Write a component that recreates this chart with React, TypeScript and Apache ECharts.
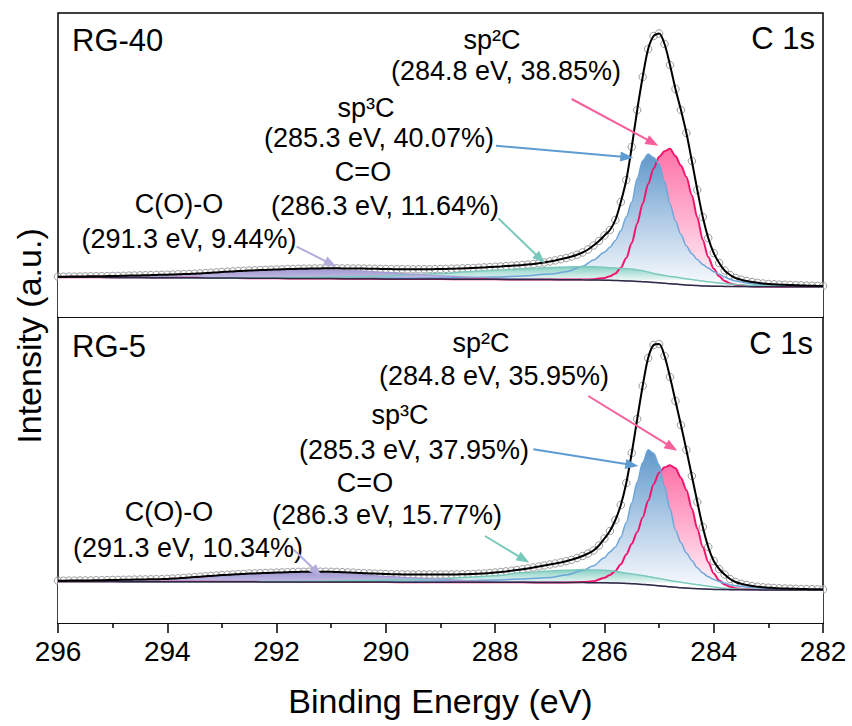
import React, { useEffect, useRef } from "react";
import * as echarts from "echarts";

// ---------- data ----------
// binding-energy grid of the measured spectra: 296.0 -> 282.0 eV, 0.1 eV step
const DATA_START_EV = 296.0;
const DATA_STEP_EV = 0.1;
const X_MIN = 282;
const X_MAX = 296;
const X_INTERVAL = 2;

// measured intensity (a.u.), RG-40
const RG40_DATA = [
  40.3, 40.3, 40.4, 40.4, 40.5, 40.6, 40.7, 40.8, 40.8, 40.9,
  41.0, 41.1, 41.2, 41.4, 41.5, 41.6, 41.8, 41.9, 42.1, 42.2,
  42.3, 42.5, 42.7, 42.9, 43.1, 43.3, 43.6, 43.9, 44.3, 44.6,
  45.0, 45.3, 45.6, 45.9, 46.2, 46.5, 46.7, 46.9, 47.1, 47.3,
  47.5, 47.7, 47.9, 48.0, 48.2, 48.3, 48.4, 48.5, 48.6, 48.7,
  48.7, 48.7, 48.6, 48.6, 48.5, 48.5, 48.4, 48.3, 48.2, 48.1,
  48.0, 47.9, 47.8, 47.8, 47.7, 47.7, 47.7, 47.8, 47.8, 47.9,
  48.0, 48.1, 48.3, 48.4, 48.6, 48.8, 49.0, 49.3, 49.6, 49.9,
  50.2, 50.5, 50.9, 51.3, 51.6, 52.0, 52.5, 53.0, 53.7, 54.5,
  55.5, 56.6, 57.8, 59.0, 60.5, 62.3, 64.5, 67.5, 71.5, 76.0,
  81.5, 87.0, 97.0, 115.0, 137.0, 170.0, 207.0, 240.0, 268.0, 281.0,
  283.5, 273.0, 252.0, 228.0, 207.0, 184.0, 156.0, 127.0, 100.0, 79.0,
  64.0, 54.0, 46.5, 42.0, 39.0, 37.3, 36.0, 35.0, 34.2, 33.5,
  33.0, 32.7, 32.4, 32.2, 32.0, 31.8, 31.6, 31.4, 31.3, 31.1,
  31.0,
];

// measured intensity (a.u.), RG-5
const RG5_DATA = [
  42.3, 42.3, 42.4, 42.4, 42.5, 42.6, 42.6, 42.7, 42.8, 42.9,
  43.0, 43.1, 43.2, 43.3, 43.4, 43.5, 43.6, 43.7, 43.8, 43.9,
  44.1, 44.4, 44.7, 45.1, 45.5, 45.9, 46.3, 46.7, 47.1, 47.5,
  47.9, 48.2, 48.5, 48.8, 49.1, 49.4, 49.6, 49.8, 50.0, 50.2,
  50.4, 50.6, 50.8, 51.0, 51.1, 51.2, 51.3, 51.3, 51.3, 51.3,
  51.2, 51.0, 50.8, 50.6, 50.3, 50.0, 49.8, 49.6, 49.4, 49.2,
  49.0, 48.8, 48.7, 48.6, 48.6, 48.5, 48.5, 48.5, 48.5, 48.5,
  48.5, 48.5, 48.6, 48.6, 48.7, 48.8, 49.0, 49.3, 49.6, 50.0,
  50.5, 51.0, 51.6, 52.3, 53.0, 53.7, 54.6, 55.5, 56.5, 57.5,
  58.5, 59.5, 60.6, 61.8, 63.2, 65.0, 67.0, 69.5, 72.5, 77.5,
  84.5, 92.0, 103.0, 118.0, 140.0, 170.0, 204.0, 237.0, 265.0, 278.0,
  279.0, 267.0, 246.0, 222.0, 198.0, 173.0, 147.0, 121.0, 96.0, 76.0,
  62.0, 54.0, 48.5, 44.0, 41.0, 39.2, 38.0, 37.0, 36.3, 35.7,
  35.3, 35.0, 34.7, 34.5, 34.3, 34.2, 34.0, 33.9, 33.8, 33.7,
  33.6,
];

// energies of the fitted components / background
const COMP_E = [
  296, 295.5, 295, 294.5, 294, 293.5, 293, 292.5, 292, 291.5,
  291, 290.5, 290, 289.5, 289, 288.5, 288, 287.5, 287, 286.7,
  286.4, 286.2, 286.0, 285.9, 285.8, 285.7, 285.6, 285.5, 285.4, 285.3,
  285.2, 285.1, 285.0, 284.9, 284.8, 284.7, 284.6, 284.5, 284.4, 284.3,
  284.2, 284.1, 284.0, 283.9, 283.8, 283.7, 283.6, 283.4, 283.2, 283.0,
  282.5, 282.0,
];

// RG-40: background and component heights above background
const RG40_BG = [
  39.8, 39.7, 39.6, 39.45, 39.3, 39.15, 39.0, 38.85, 38.7, 38.55,
  38.4, 38.25, 38.1, 38.0, 37.9, 37.8, 37.7, 37.55, 37.4, 37.3,
  37.15, 37.0, 36.8, 36.65, 36.5, 36.3, 36.1, 35.9, 35.6, 35.3,
  35.0, 34.6, 34.2, 33.7, 33.3, 32.9, 32.4, 32.0, 31.7, 31.4,
  31.1, 30.9, 30.8, 30.7, 30.6, 30.5, 30.45, 30.4, 30.3, 30.3,
  30.2, 30.2,
];
const RG40_SP2 = [
  0, 0, 0, 0, 0, 0, 0, 0, 0, 0,
  0, 0, 0, 0, 0, 0, 0, 0, 0, 0.1,
  0.3, 0.8, 2.2, 4, 7, 13, 23, 38, 58, 78,
  98, 114, 126, 132, 135, 128, 119, 108, 90, 68,
  46, 29, 17.5, 10, 5.5, 3, 1.8, 0.7, 0.3, 0.1,
  0, 0,
];
const RG40_SP3 = [
  0, 0, 0.05, 0.05, 0.1, 0.1, 0.1, 0.1, 0.15, 0.2,
  0.3, 0.4, 0.6, 0.8, 1.1, 1.6, 2.3, 3.5, 5.5, 8,
  13.5, 20, 28, 33, 40, 50, 64, 79, 103, 121,
  128, 125, 119, 102, 80, 63, 50, 39, 31.5, 26,
  21.5, 18, 14.5, 12, 9.5, 7, 5.5, 3.5, 2.2, 1.5,
  0.7, 0.3,
];
const RG40_CO = [
  0, 0, 0, 0.05, 0.1, 0.15, 0.25, 0.4, 0.6, 1.0,
  1.5, 2.2, 3.0, 4.5, 5.5, 7.5, 9.0, 10.5, 12.0, 12.8,
  13.2, 13.3, 13.0, 12.7, 12.5, 12.3, 12.2, 12.0, 11.5, 11.0,
  10.0, 9.0, 8.2, 7.7, 7.3, 7.0, 6.6, 6.2, 5.8, 5.3,
  4.8, 4.3, 3.8, 3.3, 2.8, 2.4, 2.0, 1.4, 1.0, 0.7,
  0.3, 0.1,
];
const RG40_COO = [
  0.3, 0.5, 1.0, 1.5, 2.5, 4.0, 5.5, 7.2, 8.0, 8.8,
  8.8, 8.0, 6.5, 4.8, 3.3, 2.2, 1.3, 0.7, 0.3, 0.2,
  0.1, 0.05, 0, 0, 0, 0, 0, 0, 0, 0,
  0, 0, 0, 0, 0, 0, 0, 0, 0, 0,
  0, 0, 0, 0, 0, 0, 0, 0, 0, 0,
  0, 0,
];

// RG-5: background and component heights above background
const RG5_BG = [
  41.5, 41.45, 41.4, 41.35, 41.3, 41.25, 41.2, 41.15, 41.1, 41.05,
  41.0, 40.95, 40.9, 40.85, 40.8, 40.75, 40.7, 40.65, 40.6, 40.5,
  40.4, 40.3, 40.2, 40.1, 40.0, 39.8, 39.6, 39.3, 39.0, 38.6,
  38.2, 37.7, 37.2, 36.7, 36.2, 35.7, 35.3, 34.9, 34.6, 34.3,
  34.0, 33.8, 33.6, 33.5, 33.4, 33.35, 33.3, 33.2, 33.15, 33.1,
  33.05, 33.0,
];
const RG5_SP2 = [
  0, 0, 0, 0, 0, 0, 0, 0, 0, 0,
  0, 0, 0, 0, 0, 0, 0, 0, 0, 0.1,
  0.5, 1.5, 5, 8, 12, 19, 29, 40, 52, 67,
  84, 101, 113, 119, 121.5, 119, 110, 98, 80, 60,
  42, 27, 16, 9, 5, 2.8, 1.5, 0.5, 0.2, 0.1,
  0, 0,
];
const RG5_SP3 = [
  0, 0, 0, 0, 0, 0.05, 0.1, 0.15, 0.2, 0.25,
  0.35, 0.45, 0.6, 0.8, 1.1, 1.6, 2.3, 3.3, 5.0, 7.5,
  12, 17, 25, 31, 36, 46, 61, 81, 102, 122,
  135, 132, 121, 100, 78, 57, 45, 35, 28, 21,
  16, 12.5, 10, 8, 6.5, 5, 4, 2.8, 2, 1.4,
  0.6, 0.3,
];
const RG5_CO = [
  0, 0, 0, 0, 0.05, 0.1, 0.2, 0.3, 0.4, 0.6,
  1.0, 1.5, 2.0, 2.6, 3.5, 5.0, 6.5, 9.5, 11.5, 12.3,
  13.0, 12.8, 12.5, 12.3, 11.8, 11.0, 10.2, 9.8, 9.3, 8.8,
  8.2, 7.7, 7.2, 6.8, 6.3, 5.9, 5.4, 5.0, 4.5, 4.0,
  3.5, 3.0, 2.5, 1.8, 1.4, 1.1, 0.8, 0.5, 0.3, 0.2,
  0.1, 0,
];
const RG5_COO = [
  0.5, 0.7, 1.0, 1.5, 2.3, 4.0, 6.0, 7.8, 8.8, 9.4,
  9.0, 7.5, 5.8, 4.3, 3.1, 1.5, 1.0, 0.6, 0.3, 0.2,
  0.1, 0.05, 0, 0, 0, 0, 0, 0, 0, 0,
  0, 0, 0, 0, 0, 0, 0, 0, 0, 0,
  0, 0, 0, 0, 0, 0, 0, 0, 0, 0,
  0, 0,
];

// texts
const SAMPLE_NAMES = ["RG-40", "RG-5"];
const CORE_LEVEL = "C 1s";
const PEAK_NAMES = ["sp²C", "sp³C", "C=O", "C(O)-O"];
const RG40_PEAK_INFO = ["(284.8 eV, 38.85%)", "(285.3 eV, 40.07%)", "(286.3 eV, 11.64%)", "(291.3 eV, 9.44%)"];
const RG5_PEAK_INFO = ["(284.8 eV, 35.95%)", "(285.3 eV, 37.95%)", "(286.3 eV, 15.77%)", "(291.3 eV, 10.34%)"];
const X_TITLE = "Binding Energy (eV)";
const Y_TITLE = "Intensity (a.u.)";

// ---------- layout / style ----------
const FONT = "'Liberation Sans', Arial, Helvetica, sans-serif";
const PLOT_LEFT = 58;
const PLOT_RIGHT = 823;
const PANELS = [
  { top: 13, height: 304 },
  { top: 317, height: 306 },
];

// label centres: [name line, info line]
const LABEL_POS = [
  [
    [[492, 40], [506, 71]],
    [[366, 108], [379, 138]],
    [[363, 172], [385, 206]],
    [[179, 204], [189, 239]],
  ],
  [
    [[481, 343], [494, 376]],
    [[400, 415], [414, 450]],
    [[365, 483], [387, 515]],
    [[169, 512], [188, 548]],
  ],
];
const ARROWS = [
  [
    [571.7, 99, 658.3, 145.7],
    [496, 145.7, 633.3, 157.7],
    [498.3, 218.3, 545, 263.3],
    [296.7, 246.7, 336.7, 266.7],
  ],
  [
    [588.3, 396, 677.3, 450.7],
    [533.3, 449.3, 638.3, 466],
    [485, 536, 529.3, 562.7],
    [293.3, 549.3, 321.7, 576.7],
  ],
];
const ARROW_COLORS = ["#f75f9c", "#5f9bd3", "#78c8bc", "#b3acdc"];

// draw order: sp2 (pink), sp3 (blue), C=O (teal), C(O)-O (purple)
const COMP_STYLE = [
  { line: "#f2156c", width: 2, stops: ["#ff72a9", "#ffb0cf", "#fff4f8"] },
  { line: "#6ea6d9", width: 1.5, stops: ["#6098ca", "#adc9e5", "#f5f8fc"] },
  { line: "#7ccabd", width: 1.5, stops: ["#86cfc3", "#b9e3dc", "#e9f6f3"] },
  { line: "#a39bd3", width: 1.2, stops: ["#a49cd3", "#b1aada", "#c6c0e5"] },
];

function text(str: string, x: number, y: number, size: number, align = "center", rotation = 0) {
  return {
    type: "text",
    x,
    y,
    rotation,
    silent: true,
    z: 100,
    style: {
      text: str,
      fontSize: size,
      fontFamily: FONT,
      fill: "#000",
      align,
      verticalAlign: "middle",
      textAlign: align,
      textVerticalAlign: "middle",
    },
  };
}

function arrow(a: number[], color: string) {
  const [x1, y1, x2, y2] = a;
  const dx = x2 - x1;
  const dy = y2 - y1;
  const len = Math.hypot(dx, dy);
  const ux = dx / len;
  const uy = dy / len;
  const L = 13;
  const W = 5;
  const bx = x2 - ux * L;
  const by = y2 - uy * L;
  return [
    {
      type: "line",
      silent: true,
      z: 100,
      shape: { x1, y1, x2: bx + ux * 2, y2: by + uy * 2 },
      style: { stroke: color, lineWidth: 2 },
    },
    {
      type: "polygon",
      silent: true,
      z: 100,
      shape: {
        points: [
          [x2, y2],
          [bx - uy * W, by + ux * W],
          [bx + uy * W, by - ux * W],
        ],
      },
      style: { fill: color },
    },
  ];
}

function panelSeries(idx: number, data: number[], bg: number[], comps: number[][]) {
  const series: any[] = [];
  comps.forEach((comp, k) => {
    const st = COMP_STYLE[k];
    // component curve drawn on top of the background (as in the fit)
    const curve = COMP_E.map((e, i) => [e, bg[i] + comp[i]]);
    let iMax = 0;
    curve.forEach((p, i) => {
      if (p[1] > curve[iMax][1]) iMax = i;
    });
    const top = curve[iMax][1];
    // fraction of the fill box (curve top -> axis 0) where the background lies
    const f = Math.min(0.98, Math.max(0.05, (top - bg[iMax]) / top));
    series.push({
      type: "line",
      xAxisIndex: idx,
      yAxisIndex: idx,
      silent: true,
      symbol: "none",
      smooth: 0.3,
      smoothMonotone: "x",
      lineStyle: { color: st.line, width: st.width },
      areaStyle: {
        opacity: 1,
        color: new echarts.graphic.LinearGradient(0, 0, 0, 1, [
          { offset: 0, color: st.stops[0] },
          { offset: f * 0.5, color: st.stops[1] },
          { offset: f, color: st.stops[2] },
          { offset: Math.min(1, f + 0.01), color: "#ffffff" },
          { offset: 1, color: "#ffffff" },
        ]),
      },
      data: curve,
    });
  });
  // background: white mask below, dark line
  series.push({
    type: "line",
    xAxisIndex: idx,
    yAxisIndex: idx,
    silent: true,
    symbol: "none",
    smooth: 0.3,
    smoothMonotone: "x",
    lineStyle: { color: "#302a45", width: 1.5 },
    areaStyle: { color: "#ffffff", opacity: 1 },
    data: COMP_E.map((e, i) => [e, bg[i]]),
  });
  const pts = data.map((v, i) => [Number((DATA_START_EV - i * DATA_STEP_EV).toFixed(1)), v]);
  // fitted envelope
  series.push({
    type: "line",
    xAxisIndex: idx,
    yAxisIndex: idx,
    silent: true,
    symbol: "none",
    smooth: 0.3,
    lineStyle: { color: "#000", width: 2 },
    data: pts,
  });
  // measured points
  series.push({
    type: "scatter",
    xAxisIndex: idx,
    yAxisIndex: idx,
    silent: true,
    symbol: "circle",
    symbolSize: 7.5,
    itemStyle: { color: "rgba(255,255,255,0.5)", borderColor: "#858585", borderWidth: 1 },
    data: pts,
  });
  return series;
}

export default function App() {
  const ref = useRef<HTMLDivElement>(null);

  useEffect(() => {
    if (!ref.current) return;
    const chart = echarts.init(ref.current, undefined, { renderer: "svg" });

    const grids = PANELS.map((p) => ({
      left: PLOT_LEFT,
      right: 852 - PLOT_RIGHT,
      top: p.top,
      height: p.height,
      show: true,
      borderColor: "#000",
      borderWidth: 1.5,
      backgroundColor: "transparent",
      containLabel: false,
    }));

    const xAxes = PANELS.map((_, i) => ({
      type: "value",
      gridIndex: i,
      min: X_MIN,
      max: X_MAX,
      interval: X_INTERVAL,
      inverse: true,
      show: i === 1,
      axisLine: { show: true, lineStyle: { color: "#000", width: 1.5 } },
      axisTick: { show: true, inside: false, length: 10, lineStyle: { color: "#000", width: 1.5 } },
      minorTick: { show: true, splitNumber: 2, length: 5, lineStyle: { color: "#000", width: 1.5 } },
      splitLine: { show: false },
      minorSplitLine: { show: false },
      axisLabel: {
        show: true,
        margin: 14,
        fontSize: 28,
        fontFamily: FONT,
        color: "#000",
      },
    }));

    const yAxes = PANELS.map((p, i) => ({
      type: "value",
      gridIndex: i,
      min: 0,
      max: p.height,
      show: false,
      splitLine: { show: false },
    }));

    const series = [
      ...panelSeries(0, RG40_DATA, RG40_BG, [RG40_SP2, RG40_SP3, RG40_CO, RG40_COO]),
      ...panelSeries(1, RG5_DATA, RG5_BG, [RG5_SP2, RG5_SP3, RG5_CO, RG5_COO]),
    ];

    const graphics: any[] = [];
    const infos = [RG40_PEAK_INFO, RG5_PEAK_INFO];
    PANELS.forEach((p, i) => {
      graphics.push(text(SAMPLE_NAMES[i], 72, i === 0 ? 40.5 : 346, 31, "left"));
      graphics.push(text(CORE_LEVEL, i === 0 ? 815 : 813, i === 0 ? 38.5 : 343, 31, "right"));
      PEAK_NAMES.forEach((nm, k) => {
        const [[nx, ny], [ix, iy]] = LABEL_POS[i][k];
        graphics.push(text(nm, nx, ny, 27));
        graphics.push(text(infos[i][k], ix, iy, 27));
        graphics.push(...arrow(ARROWS[i][k], ARROW_COLORS[k]));
      });
    });
    graphics.push(text(X_TITLE, 440.5, 701, 34));
    graphics.push(text(Y_TITLE, 29, 336, 34, "center", Math.PI / 2));

    chart.setOption({
      animation: false,
      backgroundColor: "#fff",
      grid: grids,
      xAxis: xAxes,
      yAxis: yAxes,
      series,
      graphic: { elements: graphics },
    });

    return () => chart.dispose();
  }, []);

  return (
    <div
      ref={ref}
      style={{ position: "fixed", left: 0, top: 0, width: 852, height: 726, background: "#fff" }}
    />
  );
}
